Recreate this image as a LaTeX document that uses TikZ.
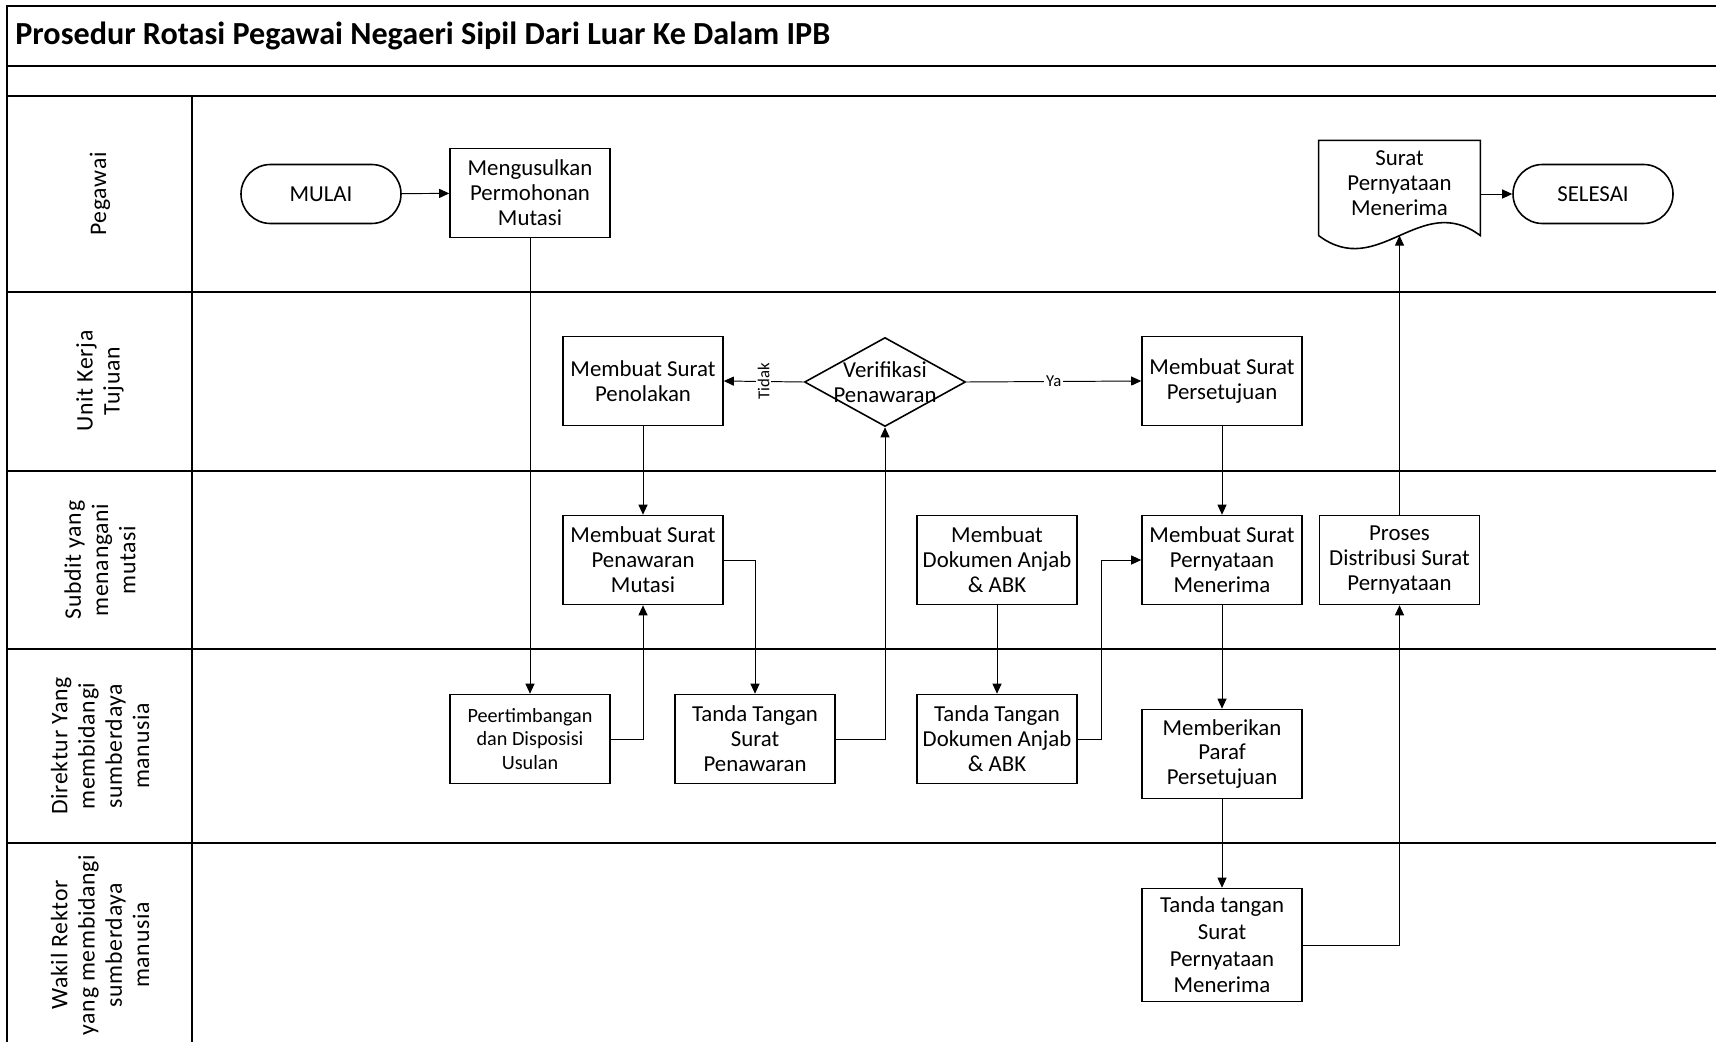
\documentclass[tikz,border=0pt]{standalone}
\usepackage{fontspec}
\setmainfont{Carlito}
\newfontfamily\lanefont[LetterSpace=3]{Carlito}
\usetikzlibrary{shapes.geometric, arrows.meta}

\newcommand{\bodyfont}{\fontsize{13}{14.2}\selectfont}

\tikzset{
    box/.style={draw, line width=0.9pt, minimum width=32mm, minimum height=17.8mm, inner sep=1pt, align=center, font=\bodyfont},
    term/.style={draw, line width=0.9pt, rounded corners=5.9mm, minimum width=32mm, minimum height=11.8mm, font=\bodyfont},
    decision/.style={draw, diamond, line width=0.9pt, minimum width=32.2mm, minimum height=17.8mm, inner sep=0pt},
    flow/.style={-{Triangle[length=2mm, width=1.8mm]}, line width=0.55pt},
    lane/.style={line width=1.6pt},
    lanelabel/.style={rotate=90, align=center, font=\lanefont\fontsize{13.5}{15.5}\selectfont},
    flowlabel/.style={fill=white, inner sep=1pt, font=\fontsize{9.5}{11}\selectfont},
}

\begin{document}
\begin{tikzpicture}[x=0.2mm, y=-0.2mm]

    \useasboundingbox (0,0) rectangle (1716,1042);

    % === Frame and swimlanes ===
    \draw[lane] (7,1042) -- (7,6) -- (1716,6);
    \foreach \y in {66, 96, 292, 471, 649, 843}
        \draw[lane] (7,\y) -- (1716,\y);
    \draw[line width=0.85pt] (192,96) -- (192,1042);

    \node[anchor=west, inner sep=0pt, font=\bfseries\fontsize{18.3}{21}\selectfont] (title) at (15,36) {Prosedur Rotasi Pegawai Negaeri Sipil Dari Luar Ke Dalam IPB};

    \node[lanelabel] (lpegawai) at (100,194) {Pegawai};
    \node[lanelabel] (lunit) at (100,381) {Unit Kerja\\Tujuan};
    \node[lanelabel] (lsubdit) at (100,560) {Subdit yang\\menangani\\mutasi};
    \node[lanelabel] (ldirektur) at (100,746) {Direktur Yang\\membidangi\\sumberdaya\\manusia};
    \node[lanelabel] (lwakil) at (100,945) {Wakil Rektor\\yang membidangi\\sumberdaya\\manusia};

    % === Pegawai ===
    \node[term] (mulai) at (321,194) {MULAI};
    \node[box] (usul) at (530,193) {Mengusulkan\\Permohonan\\Mutasi};
    \node[minimum width=32.2mm, minimum height=18.9mm, inner sep=0pt, text depth=1.8mm, align=center, font=\bodyfont] (surat) at (1399.5,188) {Surat\\Pernyataan\\Menerima};
    \draw[line width=0.9pt] (surat.south west) -- (surat.north west) -- (surat.north east) -- (surat.south east)
        .. controls +(-60,-45) and +(60,45) .. (surat.south west);
    \node[term] (selesai) at (1593,194) {SELESAI};

    % === Unit Kerja Tujuan ===
    \node[box] (tolak) at (643,381) {Membuat Surat\\Penolakan};
    \node[decision, label={[align=center, font=\bodyfont]center:{Verifikasi\\Penawaran}}] (verif) at (885,382) {};
    \node[box] (setuju) at (1222,381) {Membuat Surat\\Persetujuan};

    % === Subdit yang menangani mutasi ===
    \node[box] (tawar) at (643,560) {Membuat Surat\\Penawaran\\Mutasi};
    \node[box] (anjab) at (997,560) {Membuat\\Dokumen Anjab\\\& ABK};
    \node[box] (nyatakan) at (1222,560) {Membuat Surat\\Pernyataan\\Menerima};
    \node[box] (distribusi) at (1399.5,560) {Proses\\Distribusi Surat\\Pernyataan};

    % === Direktur ===
    \node[box, font=\fontsize{11.5}{13.2}\selectfont] (timbang) at (530,739) {Peertimbangan\\dan Disposisi\\Usulan};
    \node[box] (ttdtawar) at (755,739) {Tanda Tangan\\Surat\\Penawaran};
    \node[box] (ttdanjab) at (997,739) {Tanda Tangan\\Dokumen Anjab\\\& ABK};
    \node[box] (paraf) at (1222,754) {Memberikan\\Paraf\\Persetujuan};

    % === Wakil Rektor ===
    \node[box, minimum height=22.6mm, font=\fontsize{13}{15.2}\selectfont] (ttdwakil) at (1222,945) {Tanda tangan\\Surat\\Pernyataan\\Menerima};

    % === Connectors ===
    \draw[flow] (mulai) -- (usul);
    \draw[flow] (usul) -- (timbang);
    \draw[flow] (timbang.east) -| (tawar.south);
    \draw[flow] (tolak) -- (tawar);
    \draw[flow] (tawar.east) -| (ttdtawar.north);
    \draw[flow] (ttdtawar.east) -| (verif.south);
    \draw[flow] (verif.west) -- node[flowlabel, rotate=90] {Tidak} (tolak.east);
    \draw[flow] (verif.east) -- node[flowlabel] {Ya} (setuju.west);
    \draw[flow] (setuju) -- (nyatakan);
    \draw[flow] (anjab) -- (ttdanjab);
    \draw[flow] (ttdanjab.east) -- ++(24,0) |- (nyatakan.west);
    \draw[flow] (nyatakan) -- (paraf);
    \draw[flow] (paraf) -- (ttdwakil);
    \draw[flow] (ttdwakil.east) -| (distribusi.south);
    \draw[flow] (distribusi.north) -- (surat.south);
    \draw[flow] (surat.east |- selesai.west) -- (selesai.west);

\end{tikzpicture}
\end{document}
